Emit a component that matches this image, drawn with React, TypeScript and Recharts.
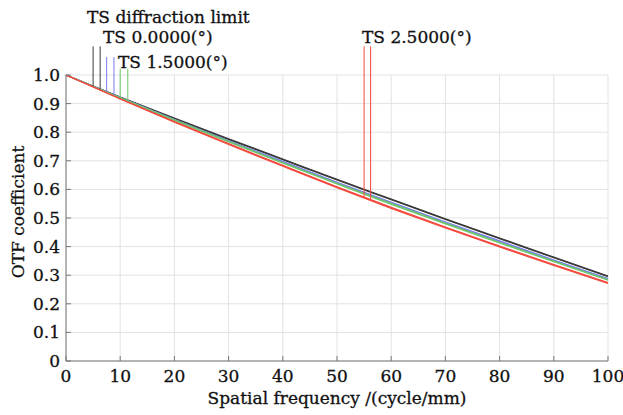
import React from 'react'
import { LineChart, Line, XAxis, YAxis, CartesianGrid, ReferenceLine } from 'recharts'

// spatial frequency samples (cycle/mm)
const freq = [0, 10, 20, 30, 40, 50, 60, 70, 80, 90, 100]

// OTF values, T and S for each field
const diffT = [1.0, 0.923, 0.849, 0.777, 0.706, 0.635, 0.566, 0.497, 0.430, 0.363, 0.297]
const diffS = [1.0, 0.922, 0.847, 0.775, 0.704, 0.633, 0.564, 0.495, 0.428, 0.361, 0.295]
const f0T = [1.0, 0.921, 0.844, 0.770, 0.698, 0.625, 0.555, 0.486, 0.420, 0.353, 0.288]
const f0S = [1.0, 0.921, 0.844, 0.769, 0.696, 0.624, 0.554, 0.485, 0.418, 0.352, 0.287]
const f15T = [1.0, 0.920, 0.843, 0.768, 0.694, 0.621, 0.551, 0.482, 0.415, 0.349, 0.285]
const f15S = [1.0, 0.920, 0.841, 0.766, 0.692, 0.619, 0.548, 0.479, 0.413, 0.347, 0.283]
const f25T = [1.0, 0.917, 0.837, 0.760, 0.684, 0.609, 0.537, 0.468, 0.402, 0.337, 0.274]
const f25S = [1.0, 0.916, 0.835, 0.757, 0.681, 0.606, 0.534, 0.465, 0.399, 0.334, 0.271]

const xTicks = [0, 10, 20, 30, 40, 50, 60, 70, 80, 90, 100]
const yTicks = [0, 0.1, 0.2, 0.3, 0.4, 0.5, 0.6, 0.7, 0.8, 0.9, 1.0]

// legend marker stems: x position, top of stem, which series it lands on
const markerX = [5, 6.3, 7.5, 8.85, 10, 11.4, 55, 56.2]
const markerTop = [1.1, 1.1, 1.063, 1.063, 1.022, 1.022, 1.1, 1.1]
const markerSeries = ['diffT', 'diffS', 'f0T', 'f0S', 'f15T', 'f15S', 'f25T', 'f25S']

const seriesVals: Record<string, number[]> = { diffT, diffS, f0T, f0S, f15T, f15S, f25T, f25S }
const seriesColor: Record<string, string> = {
  diffT: '#3a3a3a', diffS: '#3a3a3a',
  f0T: '#7b7bf2', f0S: '#7b7bf2',
  f15T: '#6cc46c', f15S: '#6cc46c',
  f25T: '#f4473c', f25S: '#f4473c',
}

const rows = freq.map((f, i) => {
  const r: any = { f }
  for (const k of Object.keys(seriesVals)) r[k] = seriesVals[k][i]
  return r
})

function at(ys: number[], x: number) {
  for (let i = 0; i < freq.length - 1; i++) {
    if (x >= freq[i] && x <= freq[i + 1]) {
      const t = (x - freq[i]) / (freq[i + 1] - freq[i])
      return ys[i] + t * (ys[i + 1] - ys[i])
    }
  }
  return ys[ys.length - 1]
}

const FONT = 'DejaVu Serif'
const AXIS = '#777'
const GRID = '#e2e2e2'
const INK = '#111'

const BottomTick = ({ x, y, payload }: any) => (
  <g>
    <line x1={x} x2={x} y1={y} y2={y - 5} stroke={AXIS} />
    <text x={x} y={y + 21} textAnchor="middle" fontFamily={FONT} fontSize={17} fill={INK} stroke={INK} strokeWidth={0.3}>
      {payload.value}
    </text>
  </g>
)
const TopTick = ({ x, y }: any) => <line x1={x} x2={x} y1={y} y2={y + 5} stroke={AXIS} />
const LeftTick = ({ x, y, payload }: any) => (
  <g>
    <line x1={x} x2={x + 5} y1={y} y2={y} stroke={AXIS} />
    <text x={x - 6} y={y + 6} textAnchor="end" fontFamily={FONT} fontSize={17} fill={INK} stroke={INK} strokeWidth={0.3}>
      {payload.value === 0 ? '0' : payload.value.toFixed(1)}
    </text>
  </g>
)
const RightTick = ({ x, y }: any) => <line x1={x} x2={x - 5} y1={y} y2={y} stroke={AXIS} />

export default function App() {
  return (
    <div style={{ position: 'absolute', left: 0, top: 0, width: 623, height: 415, background: '#fff' }}>
      <LineChart width={623} height={415} data={rows} margin={{ top: 75, right: 15, bottom: 24, left: 16 }}>
        <CartesianGrid stroke={GRID} strokeWidth={1} />
        <XAxis dataKey="f" type="number" domain={[0, 100]} ticks={xTicks} tickSize={0} tickMargin={0}
          tickLine={false} axisLine={{ stroke: AXIS }} tick={<BottomTick />} height={30} interval={0} />
        <XAxis xAxisId="top" orientation="top" dataKey="f" type="number" domain={[0, 100]} ticks={xTicks}
          tickSize={0} tickMargin={0} tickLine={false} axisLine={{ stroke: AXIS }} tick={<TopTick />} height={0} interval={0} />
        <YAxis type="number" domain={[0, 1]} ticks={yTicks} tickSize={0} tickMargin={0} tickLine={false}
          axisLine={{ stroke: AXIS }} tick={<LeftTick />} width={50} interval={0} />
        <YAxis yAxisId="right" orientation="right" type="number" domain={[0, 1]} ticks={yTicks} tickSize={0}
          tickMargin={0} tickLine={false} axisLine={{ stroke: AXIS }} tick={<RightTick />} width={0} interval={0} />
        {Object.keys(seriesVals).map(k => (
          <Line key={k} dataKey={k} type="monotone" stroke={seriesColor[k]} strokeWidth={1.3} dot={false}
            isAnimationActive={false} />
        ))}
        {markerX.map((mx, i) => (
          <ReferenceLine key={'m' + i} ifOverflow="visible" stroke={seriesColor[markerSeries[i]]} strokeWidth={1}
            segment={[{ x: mx, y: at(seriesVals[markerSeries[i]], mx) }, { x: mx, y: markerTop[i] }]} />
        ))}
      </LineChart>
      <svg width={623} height={415} style={{ position: 'absolute', left: 0, top: 0, pointerEvents: 'none' }}>
        <g fontFamily={FONT} fill={INK} stroke={INK} strokeWidth={0.3} fontSize={17}>
          <text x={87} y={23}>TS diffraction limit</text>
          <text x={103} y={43}>TS 0.0000(°)</text>
          <text x={118} y={68}>TS 1.5000(°)</text>
          <text x={362} y={43}>TS 2.5000(°)</text>
          <text x={337} y={404} textAnchor="middle">Spatial frequency /(cycle/mm)</text>
          <text x={24} y={212} textAnchor="middle" transform="rotate(-90 24 212)">OTF coefficient</text>
        </g>
      </svg>
    </div>
  )
}
